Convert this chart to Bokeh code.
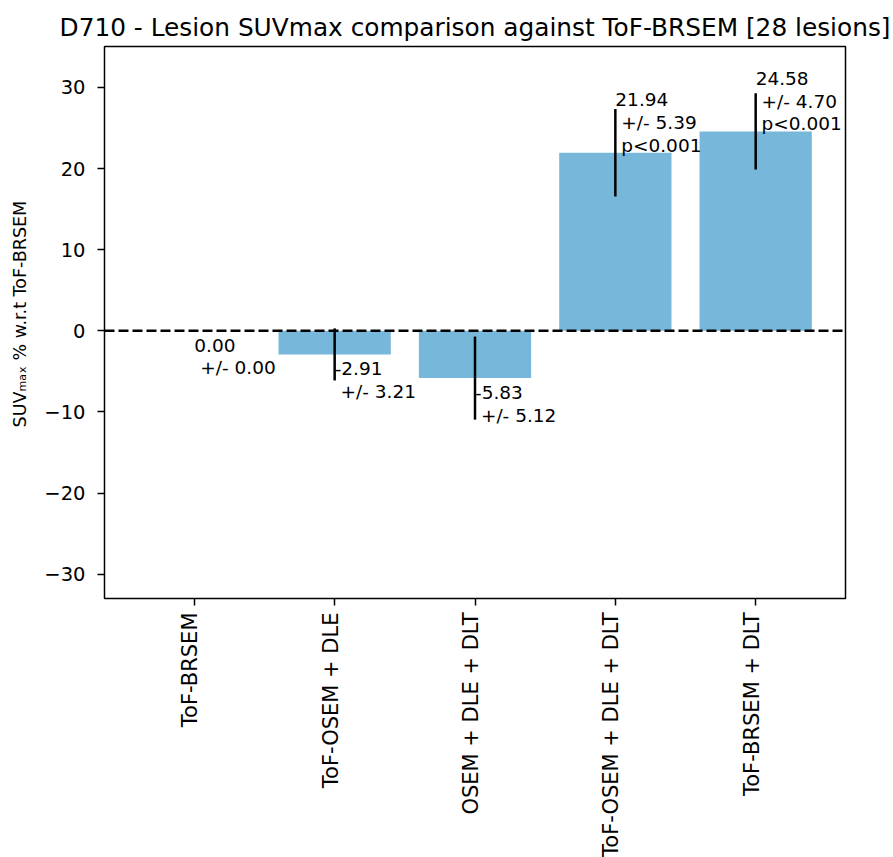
import math
from bokeh.plotting import figure
from bokeh.layouts import column
from bokeh.models import Range1d, FixedTicker, Span, ColumnDataSource, CustomLabelingPolicy
from bokeh.core.properties import value
from bokeh.embed import file_html
from bokeh.resources import INLINE

# ---------------- data ----------------
title_text = "D710 - Lesion SUVmax comparison against ToF-BRSEM [28 lesions]"
categories = ["ToF-BRSEM", "ToF-OSEM + DLE", "OSEM + DLE + DLT",
              "ToF-OSEM + DLE + DLT", "ToF-BRSEM + DLT"]
mean_diff = [0.00, -2.91, -5.83, 21.94, 24.58]
std_diff = [0.00, 3.21, 5.12, 5.39, 4.70]
p_values = ["", "", "", "p<0.001", "p<0.001"]
y_ticks = [-30, -20, -10, 0, 10, 20, 30]
y_label = "SUV\u2098\u2090\u2093 % w.r.t ToF-BRSEM"

FONT = "DejaVu Sans"
BAR_COLOR = "#76b7da"
NBSP = "\u00a0"

idx = list(range(len(categories)))
x_range = Range1d(-0.64, 4.64)

p = figure(width=893, height=606, output_backend="svg", toolbar_location=None,
           x_range=x_range, y_range=Range1d(-33.0, 35.05),
           min_border_left=104, min_border_right=48, min_border_top=46,
           min_border_bottom=8)

p.title.text = title_text
p.title.text_font = FONT
p.title.text_font_size = "24.8px"
p.title.text_font_style = "normal"
p.title.align = "center"
p.title.text_color = "black"

p.grid.visible = False
p.background_fill_color = "white"
p.border_fill_color = "white"
p.outline_line_color = "black"
p.outline_line_width = 1.5

# bars
src = ColumnDataSource(dict(x=idx, top=mean_diff,
                            lo=[m - s for m, s in zip(mean_diff, std_diff)],
                            hi=[m + s for m, s in zip(mean_diff, std_diff)]))
p.vbar(x="x", top="top", bottom=0, width=0.8, source=src,
       fill_color=BAR_COLOR, line_color=None)
# error bars
p.segment(x0="x", y0="lo", x1="x", y1="hi", source=src,
          line_color="black", line_width=2.5)

# zero line
p.add_layout(Span(location=0, dimension="width", line_color="black",
                  line_width=2.5, line_dash="10 4"))

# annotations
def ann_text(m, s, pv):
    t = f"{m:.2f}\n{NBSP}+/- {s:.2f}"
    if pv:
        t += f"\n{NBSP}{pv}"
    return t

pos = dict(x=[], y=[], t=[])
neg = dict(x=[], y=[], t=[])
for i, m, s, pv in zip(idx, mean_diff, std_diff, p_values):
    d = pos if m > 0 else neg
    d["x"].append(i)
    d["y"].append(m)
    d["t"].append(ann_text(m, s, pv))

p.text(x="x", y="y", text="t", source=ColumnDataSource(pos),
       text_font=value(FONT), text_font_size="18.5px", text_align="left",
       text_baseline="bottom", text_line_height=1.08, text_color="black",
       y_offset=3)
p.text(x="x", y="y", text="t", source=ColumnDataSource(neg),
       text_font=value(FONT), text_font_size="18.5px", text_align="left",
       text_baseline="top", text_line_height=1.08, text_color="black",
       y_offset=4)

# y axis
p.yaxis.ticker = FixedTicker(ticks=y_ticks)
p.yaxis.major_label_overrides = {t: (f"\u2212{abs(t)}" if t < 0 else str(t)) for t in y_ticks}
p.yaxis.major_label_text_font = FONT
p.yaxis.major_label_text_font_size = "19.5px"
p.yaxis.major_label_text_color = "black"
p.yaxis.major_label_standoff = 12
p.yaxis.axis_line_color = None
p.yaxis.major_tick_in = 0
p.yaxis.major_tick_out = 7
p.yaxis.major_tick_line_width = 1.5
p.yaxis.minor_tick_line_color = None
p.yaxis.axis_label = NBSP * 3 + y_label
p.yaxis.axis_label_text_font = FONT
p.yaxis.axis_label_text_font_size = "17.5px"
p.yaxis.axis_label_text_font_style = "normal"
p.yaxis.axis_label_text_color = "black"
p.yaxis.axis_label_standoff = 11

# x axis: tick marks only, names drawn in the strip below
p.xaxis.ticker = FixedTicker(ticks=idx)
p.xaxis.major_label_policy = CustomLabelingPolicy(
    code="for (const i of [...indices]) indices.unset(i)")
p.xaxis.major_label_text_font_size = "0px"
p.xaxis.major_label_standoff = 0
p.xaxis.axis_line_color = None
p.xaxis.major_tick_in = 0
p.xaxis.major_tick_out = 7
p.xaxis.major_tick_line_width = 1.5
p.xaxis.minor_tick_line_color = None

# strip with the rotated category names (the longest name reaches the page edge as in the source)
p2 = figure(width=893, height=251, output_backend="svg", toolbar_location=None,
            x_range=x_range, y_range=Range1d(0, 1),
            min_border_left=104, min_border_right=48, min_border_top=0,
            min_border_bottom=0, x_axis_location=None, y_axis_location=None)
p2.grid.visible = False
p2.outline_line_color = None
p2.background_fill_color = "white"
p2.border_fill_color = "white"
p2.text(x=idx, y=[1] * len(idx), text=categories, angle=math.pi / 2,
        text_align="right", text_baseline="middle", x_offset=-4, y_offset=6,
        text_font=value(FONT), text_font_size="21px", text_color="black")

layout = column(p, p2, spacing=0)
open("out.html", "w").write(file_html(layout, INLINE))
